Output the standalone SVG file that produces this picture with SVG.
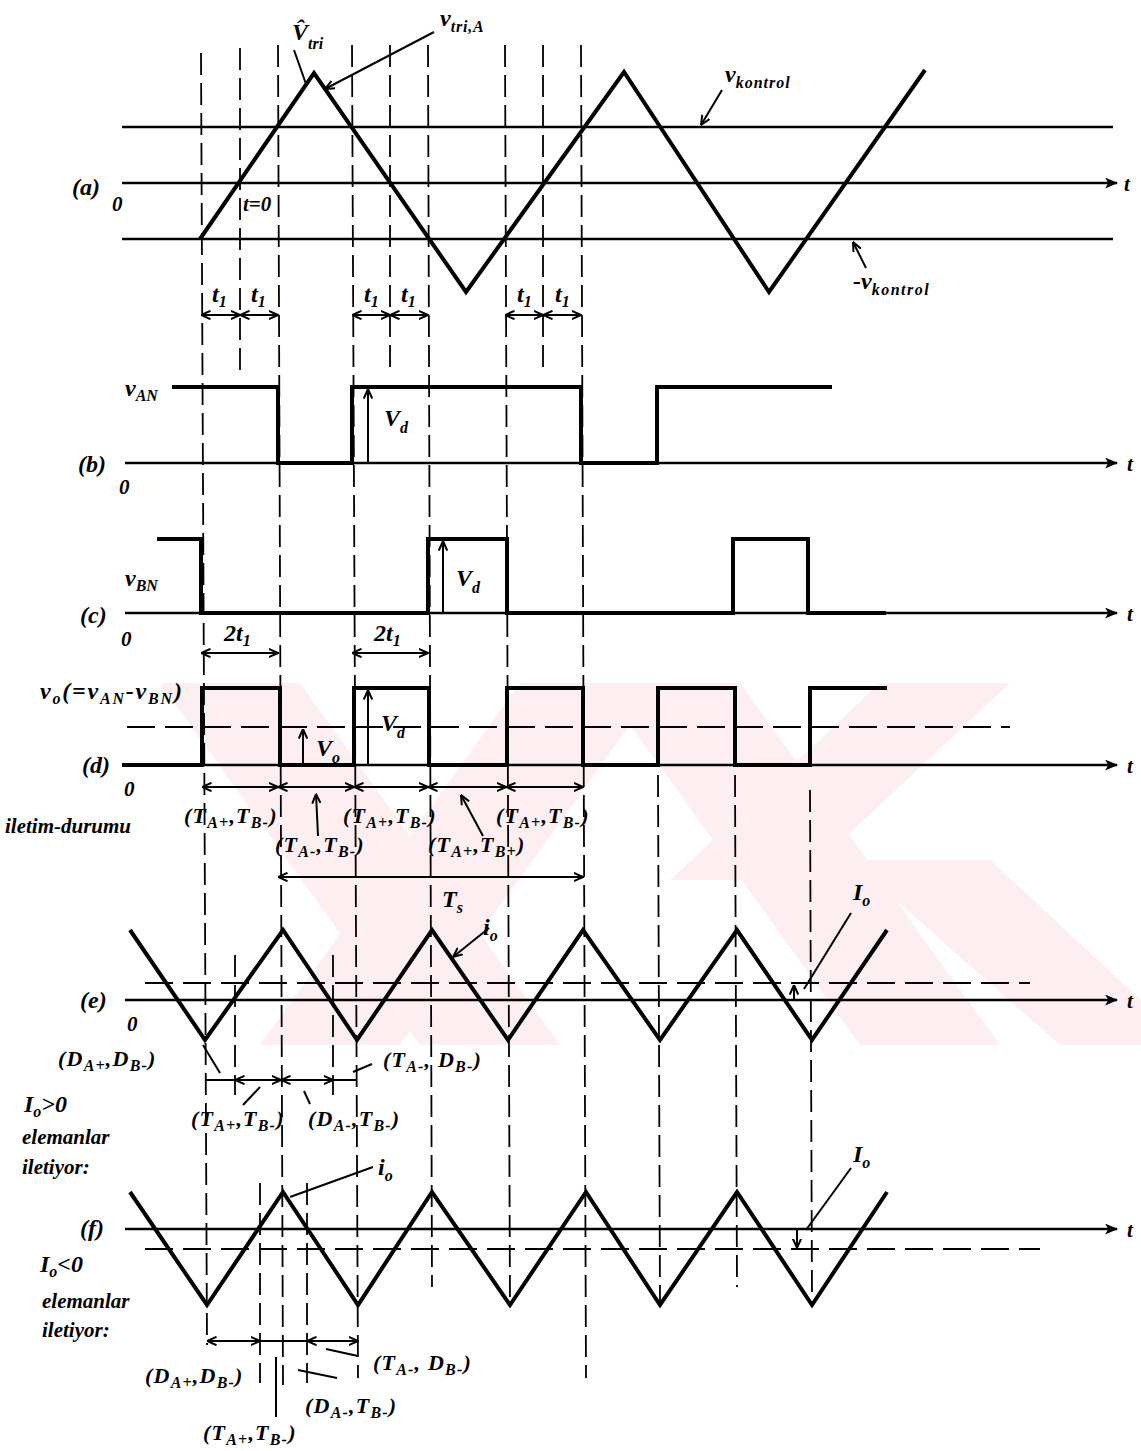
<svg xmlns="http://www.w3.org/2000/svg" width="1141" height="1451" viewBox="0 0 1141 1451">
<style>
.sig{stroke:#000;stroke-width:4;fill:none;stroke-linejoin:miter}
.ax{stroke:#000;stroke-width:2.5;fill:none}
.ln{stroke:#000;stroke-width:2;fill:none}
.dash{stroke:#000;stroke-width:1.8;fill:none;stroke-dasharray:22 8}
.hdash{stroke:#000;stroke-width:1.8;fill:none;stroke-dasharray:28 10}
.wm{fill:#fdeef1}
text{font-family:"Liberation Serif","Times New Roman",serif;font-style:italic;font-weight:bold;font-size:21px;fill:#000}
.big{font-size:24px}
.sub{font-size:16px}
.pl{font-size:22px;letter-spacing:1.2px}
.wide{letter-spacing:1.8px}
</style>
<defs>
<marker id="ah" viewBox="0 0 12 10" refX="11" refY="5" markerWidth="13" markerHeight="11" markerUnits="userSpaceOnUse" orient="auto-start-reverse"><path d="M0,0 L12,5 L0,10 L3,5 z" fill="#000"/></marker>
<marker id="oa" viewBox="0 0 10 10" refX="9.5" refY="5" markerWidth="10" markerHeight="10" markerUnits="userSpaceOnUse" orient="auto-start-reverse"><path d="M0,0.8 L9.5,5 L0,9.2" fill="none" stroke="#000" stroke-width="2"/></marker>
<clipPath id="wmclip"><rect x="155" y="683" width="986" height="362"/></clipPath>
</defs>
<rect width="1141" height="1451" fill="#fff"/>
<g id="watermark" clip-path="url(#wmclip)">
<polygon class="wm" points="160,683 300,683 560,1045 420,1045"/>
<polygon class="wm" points="520,683 660,683 400,1045 260,1045"/>
<polygon class="wm" points="600,683 740,683 1000,1045 860,1045"/>
<polygon class="wm" points="880,683 1010,683 800,880 670,880"/>
<polygon class="wm" points="850,860 990,860 1141,1000 1141,1045 1060,1045"/>
</g>
<g id="guides">
<line class="dash" x1="201" y1="53" x2="207" y2="1345"/>
<line class="dash" x1="278" y1="45" x2="283" y2="1385"/>
<line class="dash" x1="352" y1="45" x2="358" y2="1378"/>
<line class="dash" x1="428" y1="45" x2="432" y2="1287"/>
<line class="dash" x1="505" y1="45" x2="510" y2="1305"/>
<line class="dash" x1="581" y1="45" x2="586" y2="1378"/>
<line class="dash" x1="240" y1="48" x2="240" y2="372"/>
<line class="dash" x1="390" y1="45" x2="390" y2="372"/>
<line class="dash" x1="543" y1="45" x2="543" y2="372"/>
<line class="dash" x1="658" y1="775" x2="660" y2="1303"/>
<line class="dash" x1="735" y1="775" x2="737" y2="1287"/>
<line class="dash" x1="810" y1="790" x2="812" y2="1300"/>
<line class="dash" x1="235" y1="955" x2="235" y2="1095"/>
<line class="dash" x1="333" y1="955" x2="333" y2="1095"/>
<line class="dash" x1="260" y1="1183" x2="260" y2="1383"/>
<line class="dash" x1="307" y1="1183" x2="307" y2="1383"/>
</g>
<g id="panel-a">
<line class="ax" x1="122" y1="127" x2="1113" y2="127"/>
<line class="ax" x1="122" y1="183" x2="1117" y2="183" marker-end="url(#ah)"/>
<line class="ax" x1="122" y1="239" x2="1113" y2="239"/>
<polyline class="sig" points="200,239 314,73 466,292 624,72 769,292 925,70"/>
<text x="72" y="195" class="big">(a)</text>
<text x="112" y="211">0</text>
<text x="1124" y="191">t</text>
<text x="243" y="211">t=0</text>
<text x="292" y="40" class="big">V̂<tspan class="sub" dy="9">tri</tspan></text>
<line class="ln" x1="294" y1="50" x2="306" y2="84"/>
<text x="440" y="26" class="big">v<tspan class="sub" dy="6" letter-spacing="0.8">tri,A</tspan></text>
<line class="ln" x1="434" y1="32" x2="325" y2="89" marker-end="url(#oa)"/>
<text x="725" y="82" class="big">v<tspan class="sub" dy="6" letter-spacing="1">kontrol</tspan></text>
<line class="ln" x1="722" y1="90" x2="701" y2="125" marker-end="url(#oa)"/>
<text x="853" y="289" class="big">-v<tspan class="sub" dy="6" letter-spacing="1.5">kontrol</tspan></text>
<line class="ln" x1="866" y1="268" x2="853" y2="242" marker-end="url(#oa)"/>
<line class="ln" x1="201" y1="315" x2="240" y2="315" marker-start="url(#oa)" marker-end="url(#oa)"/>
<line class="ln" x1="240" y1="315" x2="278" y2="315" marker-start="url(#oa)" marker-end="url(#oa)"/>
<line class="ln" x1="352" y1="315" x2="390" y2="315" marker-start="url(#oa)" marker-end="url(#oa)"/>
<line class="ln" x1="390" y1="315" x2="428" y2="315" marker-start="url(#oa)" marker-end="url(#oa)"/>
<line class="ln" x1="505" y1="315" x2="543" y2="315" marker-start="url(#oa)" marker-end="url(#oa)"/>
<line class="ln" x1="543" y1="315" x2="581" y2="315" marker-start="url(#oa)" marker-end="url(#oa)"/>
<text x="212" y="302" class="big">t<tspan class="sub" dy="5">1</tspan></text>
<text x="251" y="302" class="big">t<tspan class="sub" dy="5">1</tspan></text>
<text x="364" y="302" class="big">t<tspan class="sub" dy="5">1</tspan></text>
<text x="401" y="302" class="big">t<tspan class="sub" dy="5">1</tspan></text>
<text x="517" y="302" class="big">t<tspan class="sub" dy="5">1</tspan></text>
<text x="555" y="302" class="big">t<tspan class="sub" dy="5">1</tspan></text>
</g>
<g id="panel-b">
<line class="ax" x1="125" y1="463" x2="1117" y2="463" marker-end="url(#ah)"/>
<polyline class="sig" points="172,387 278,387 278,463 352,463 352,387 581,387 581,463 657,463 657,387 832,387"/>
<line class="ln" x1="368" y1="463" x2="368" y2="389" marker-end="url(#oa)"/>
<text x="125" y="396" class="big">v<tspan class="sub" dy="5">AN</tspan></text>
<text x="384" y="426" class="big">V<tspan class="sub" dy="7">d</tspan></text>
<text x="78" y="472" class="big">(b)</text>
<text x="119" y="494">0</text>
<text x="1127" y="471">t</text>
</g>
<g id="panel-c">
<line class="ax" x1="125" y1="613" x2="1117" y2="613" marker-end="url(#ah)"/>
<polyline class="sig" points="157,539 201,539 201,613 428,613 428,539 507,539 507,613 733,613 733,539 808,539 808,613 886,613"/>
<line class="ln" x1="443" y1="613" x2="443" y2="541" marker-end="url(#oa)"/>
<text x="125" y="586" class="big">v<tspan class="sub" dy="5">BN</tspan></text>
<text x="456" y="586" class="big">V<tspan class="sub" dy="7">d</tspan></text>
<text x="80" y="623" class="big">(c)</text>
<text x="121" y="646">0</text>
<text x="1127" y="621">t</text>
<line class="ln" x1="201" y1="653" x2="278" y2="653" marker-start="url(#oa)" marker-end="url(#oa)"/>
<line class="ln" x1="352" y1="653" x2="428" y2="653" marker-start="url(#oa)" marker-end="url(#oa)"/>
<text x="224" y="641" class="big">2t<tspan class="sub" dy="5">1</tspan></text>
<text x="374" y="641" class="big">2t<tspan class="sub" dy="5">1</tspan></text>
</g>
<g id="panel-d">
<line class="hdash" x1="127" y1="727" x2="1010" y2="727"/>
<line class="ax" x1="122" y1="765" x2="1117" y2="765" marker-end="url(#ah)"/>
<polyline class="sig" points="122,765 202,765 202,688 280,688 280,765 354,765 354,688 429,688 429,765 507,765 507,688 583,688 583,765 658,765 658,688 735,688 735,765 810,765 810,688 887,688"/>
<line class="ln" x1="303" y1="765" x2="303" y2="729" marker-end="url(#oa)"/>
<line class="ln" x1="368" y1="765" x2="368" y2="690" marker-end="url(#oa)"/>
<text x="40" y="699" class="big wide">v<tspan class="sub" dy="5">o</tspan><tspan dy="-5">(=v</tspan><tspan class="sub" dy="5">AN</tspan><tspan dy="-5">-v</tspan><tspan class="sub" dy="5">BN</tspan><tspan dy="-5">)</tspan></text>
<text x="316" y="756" class="big">V<tspan class="sub" dy="7">o</tspan></text>
<text x="381" y="731" class="big">V<tspan class="sub" dy="7">d</tspan></text>
<text x="82" y="773" class="big">(d)</text>
<text x="124" y="796">0</text>
<text x="1127" y="773">t</text>
<text x="5" y="833" font-size="20">iletim-durumu</text>
</g>
<g id="conduction-d">
<line class="ln" x1="202" y1="787" x2="278" y2="787" marker-start="url(#oa)" marker-end="url(#oa)"/>
<line class="ln" x1="278" y1="787" x2="354" y2="787" marker-start="url(#oa)" marker-end="url(#oa)"/>
<line class="ln" x1="354" y1="787" x2="428" y2="787" marker-start="url(#oa)" marker-end="url(#oa)"/>
<line class="ln" x1="428" y1="787" x2="506" y2="787" marker-start="url(#oa)" marker-end="url(#oa)"/>
<line class="ln" x1="506" y1="787" x2="583" y2="787" marker-start="url(#oa)" marker-end="url(#oa)"/>
<line class="ln" x1="318" y1="836" x2="316" y2="794" marker-end="url(#oa)"/>
<line class="ln" x1="483" y1="836" x2="461" y2="795" marker-end="url(#oa)"/>
<text x="184" y="823" class="pl">(T<tspan class="sub" dy="5">A+</tspan><tspan dy="-5">,T</tspan><tspan class="sub" dy="5">B-</tspan><tspan dy="-5">)</tspan></text>
<text x="275" y="852" class="pl">(T<tspan class="sub" dy="5">A-</tspan><tspan dy="-5">,T</tspan><tspan class="sub" dy="5">B-</tspan><tspan dy="-5">)</tspan></text>
<text x="343" y="823" class="pl">(T<tspan class="sub" dy="5">A+</tspan><tspan dy="-5">,T</tspan><tspan class="sub" dy="5">B-</tspan><tspan dy="-5">)</tspan></text>
<text x="428" y="852" class="pl">(T<tspan class="sub" dy="5">A+</tspan><tspan dy="-5">,T</tspan><tspan class="sub" dy="5">B+</tspan><tspan dy="-5">)</tspan></text>
<text x="496" y="823" class="pl">(T<tspan class="sub" dy="5">A+</tspan><tspan dy="-5">,T</tspan><tspan class="sub" dy="5">B-</tspan><tspan dy="-5">)</tspan></text>
<line class="ln" x1="278" y1="877" x2="583" y2="877" marker-start="url(#oa)" marker-end="url(#oa)"/>
<text x="442" y="907" class="big">T<tspan class="sub" dy="6">s</tspan></text>
</g>
<g id="panel-e">
<line class="hdash" x1="145" y1="983" x2="1030" y2="983"/>
<line class="ax" x1="125" y1="1000" x2="1117" y2="1000" marker-end="url(#ah)"/>
<polyline class="sig" points="130,930 205,1040 283,930 357,1040 432,930 508,1040 583,930 660,1040 737,930 812,1040 887,930"/>
<text x="80" y="1008" class="big">(e)</text>
<text x="127" y="1031">0</text>
<text x="1127" y="1008">t</text>
<text x="483" y="935" class="big">i<tspan class="sub" dy="6">o</tspan></text>
<line class="ln" x1="489" y1="928" x2="453" y2="957" marker-end="url(#oa)"/>
<text x="853" y="900" class="big">I<tspan class="sub" dy="6">o</tspan></text>
<line class="ln" x1="851" y1="913" x2="804" y2="989"/>
<line class="ln" x1="794" y1="1000" x2="794" y2="985" marker-end="url(#oa)"/>
<line class="ln" x1="205" y1="1080" x2="357" y2="1080"/>
<line class="ln" x1="235" y1="1080" x2="281" y2="1080" marker-start="url(#oa)" marker-end="url(#oa)"/>
<line class="ln" x1="281" y1="1080" x2="333" y2="1080" marker-start="url(#oa)" marker-end="url(#oa)"/>
<line class="ln" x1="203" y1="1045" x2="220" y2="1073"/>
<line class="ln" x1="353" y1="1072" x2="372" y2="1064"/>
<line class="ln" x1="260" y1="1087" x2="243" y2="1105"/>
<line class="ln" x1="304" y1="1091" x2="310" y2="1104"/>
<text x="58" y="1066" class="pl">(D<tspan class="sub" dy="5">A+</tspan><tspan dy="-5">,D</tspan><tspan class="sub" dy="5">B-</tspan><tspan dy="-5">)</tspan></text>
<text x="383" y="1067" class="pl">(T<tspan class="sub" dy="5">A-</tspan><tspan dy="-5">, D</tspan><tspan class="sub" dy="5">B-</tspan><tspan dy="-5">)</tspan></text>
<text x="191" y="1126" class="pl">(T<tspan class="sub" dy="5">A+</tspan><tspan dy="-5">,T</tspan><tspan class="sub" dy="5">B-</tspan><tspan dy="-5">)</tspan></text>
<text x="308" y="1126" class="pl">(D<tspan class="sub" dy="5">A-</tspan><tspan dy="-5">,T</tspan><tspan class="sub" dy="5">B-</tspan><tspan dy="-5">)</tspan></text>
<text x="24" y="1112" class="big">I<tspan class="sub" dy="5">o</tspan><tspan dy="-5">&gt;0</tspan></text>
<text x="22" y="1144">elemanlar</text>
<text x="22" y="1174">iletiyor:</text>
</g>
<g id="panel-f">
<line class="hdash" x1="145" y1="1249" x2="1040" y2="1249"/>
<line class="ax" x1="125" y1="1229" x2="1117" y2="1229" marker-end="url(#ah)"/>
<polyline class="sig" points="130,1192 207,1305 283,1192 358,1305 432,1192 510,1305 586,1192 660,1305 737,1192 812,1305 887,1192"/>
<text x="80" y="1236" class="big">(f)</text>
<text x="1127" y="1237">t</text>
<text x="378" y="1175" class="big">i<tspan class="sub" dy="6">o</tspan></text>
<line class="ln" x1="373" y1="1167" x2="290" y2="1197"/>
<text x="853" y="1162" class="big">I<tspan class="sub" dy="6">o</tspan></text>
<line class="ln" x1="851" y1="1168" x2="806" y2="1230"/>
<line class="ln" x1="797" y1="1229" x2="797" y2="1248" marker-end="url(#oa)"/>
<line class="ln" x1="207" y1="1341" x2="358" y2="1341"/>
<line class="ln" x1="207" y1="1341" x2="260" y2="1341" marker-start="url(#oa)" marker-end="url(#oa)"/>
<line class="ln" x1="307" y1="1341" x2="358" y2="1341" marker-start="url(#oa)" marker-end="url(#oa)"/>
<line class="ln" x1="276" y1="1357" x2="276" y2="1417"/>
<line class="ln" x1="298" y1="1370" x2="337" y2="1378"/>
<line class="ln" x1="326" y1="1349" x2="358" y2="1356"/>
<text x="40" y="1272" class="big">I<tspan class="sub" dy="5">o</tspan><tspan dy="-5">&lt;0</tspan></text>
<text x="42" y="1308">elemanlar</text>
<text x="42" y="1337">iletiyor:</text>
<text x="145" y="1383" class="pl">(D<tspan class="sub" dy="5">A+</tspan><tspan dy="-5">,D</tspan><tspan class="sub" dy="5">B-</tspan><tspan dy="-5">)</tspan></text>
<text x="203" y="1440" class="pl">(T<tspan class="sub" dy="5">A+</tspan><tspan dy="-5">,T</tspan><tspan class="sub" dy="5">B-</tspan><tspan dy="-5">)</tspan></text>
<text x="305" y="1413" class="pl">(D<tspan class="sub" dy="5">A-</tspan><tspan dy="-5">,T</tspan><tspan class="sub" dy="5">B-</tspan><tspan dy="-5">)</tspan></text>
<text x="373" y="1370" class="pl">(T<tspan class="sub" dy="5">A-</tspan><tspan dy="-5">, D</tspan><tspan class="sub" dy="5">B-</tspan><tspan dy="-5">)</tspan></text>
</g>
</svg>
